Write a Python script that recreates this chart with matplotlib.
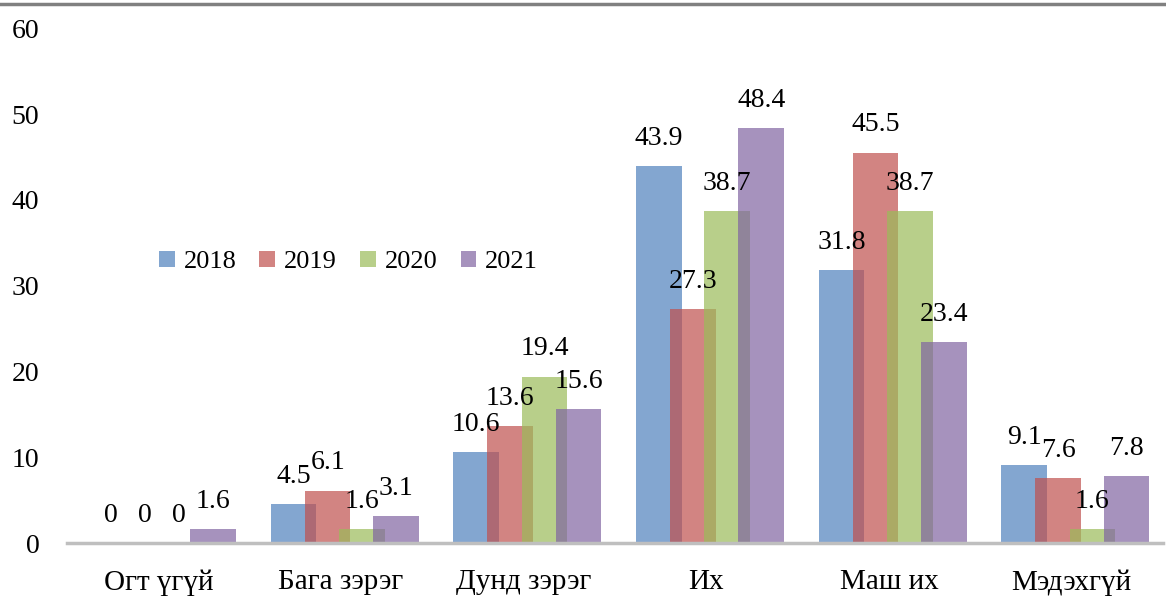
import matplotlib

matplotlib.use("Agg")
import matplotlib.pyplot as plt  # noqa: E402
import numpy as np  # noqa: E402
from matplotlib.lines import Line2D  # noqa: E402

categories = ["Огт үгүй", "Бага зэрэг", "Дунд зэрэг", "Их", "Маш их", "Мэдэхгүй"]
years = ["2018", "2019", "2020", "2021"]
v2018 = [0, 4.5, 10.6, 43.9, 31.8, 9.1]
v2019 = [0, 6.1, 13.6, 27.3, 45.5, 7.6]
v2020 = [0, 1.6, 19.4, 38.7, 38.7, 1.6]
v2021 = [1.6, 3.1, 15.6, 48.4, 23.4, 7.8]
series = [v2018, v2019, v2020, v2021]
colors = ["#4F81BD", "#C0504D", "#9BBB59", "#8064A2"]

plt.rcParams["font.family"] = ["Liberation Serif", "DejaVu Serif"]
FS = 20

fig = plt.figure(figsize=(11.66, 6.15), dpi=100)
ax = fig.add_axes([0.0575, 0.117, 0.94, 0.837])

x = np.arange(len(categories))
width = 0.25
step = 0.187
for i, (vals, c) in enumerate(zip(series, colors)):
    pos = x + (i - 1.5) * step + 0.02
    ax.bar(pos, vals, width=width, color=c, alpha=0.7, label=years[i],
           linewidth=0, zorder=2 + i)
    for px, v in zip(pos, vals):
        ax.annotate(f"{v:g}", (px, v), xytext=(0, 11), textcoords="offset points",
                    ha="center", va="bottom", fontsize=FS, zorder=10)

ax.set_xlim(-0.5, len(categories) - 0.5)
ax.set_ylim(0, 60)
ax.set_yticks(np.arange(0, 61, 10))
ax.set_xticks(x)
ax.set_xticklabels(categories, fontsize=21)
ax.tick_params(axis="y", length=0, pad=20, labelsize=FS)
ax.tick_params(axis="x", length=0, pad=19)
for s in ("top", "right", "left"):
    ax.spines[s].set_visible(False)
ax.spines["bottom"].set_color("#BFBFBF")
ax.spines["bottom"].set_linewidth(2.5)
ax.spines["bottom"].set_zorder(20)

ax.legend(loc="center left", bbox_to_anchor=(0.062, 0.546), ncol=4, frameon=False,
          fontsize=19, handlelength=0.6, handleheight=0.6, handletextpad=0.34,
          columnspacing=0.87)

# gray rule at the top of the page crop
fig.add_artist(Line2D([0, 1], [0.993, 0.993], transform=fig.transFigure,
                      color="#808080", linewidth=2.5))

fig.savefig("out.png", dpi=100, facecolor="white")
